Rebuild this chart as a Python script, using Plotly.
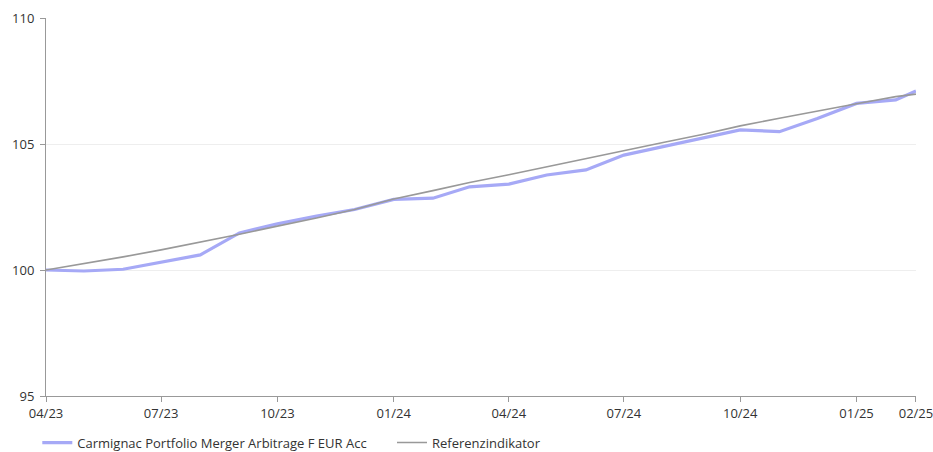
import plotly.graph_objects as go

dates = [
    "2023-04-01", "2023-05-01", "2023-06-01", "2023-07-01", "2023-08-01", "2023-09-01",
    "2023-10-01", "2023-11-01", "2023-12-01", "2024-01-01", "2024-02-01", "2024-03-01",
    "2024-04-01", "2024-05-01", "2024-06-01", "2024-07-01", "2024-08-01", "2024-09-01",
    "2024-10-01", "2024-11-01", "2024-12-01", "2025-01-01", "2025-02-01", "2025-02-17",
]
fund = [
    100.00, 99.96, 100.03, 100.30, 100.60, 101.47,
    101.83, 102.14, 102.40, 102.80, 102.85, 103.30,
    103.41, 103.77, 103.97, 104.56, 104.90, 105.24,
    105.56, 105.49, 106.01, 106.61, 106.75, 107.10,
]
benchmark = [
    100.00, 100.25, 100.52, 100.80, 101.10, 101.42,
    101.74, 102.06, 102.40, 102.82, 103.15, 103.47,
    103.78, 104.10, 104.42, 104.74, 105.06, 105.38,
    105.72, 106.02, 106.32, 106.60, 106.88, 106.98,
]
fund_name = "Carmignac Portfolio Merger Arbitrage F EUR Acc"
bench_name = "Referenzindikator"
tick_dates = ["2023-04-01", "2023-07-01", "2023-10-01", "2024-01-01", "2024-04-01",
              "2024-07-01", "2024-10-01", "2025-01-01", "2025-02-17"]
tick_labels = ["04/23", "07/23", "10/23", "01/24", "04/24", "07/24", "10/24", "01/25", "02/25"]
y_ticks = [95, 100, 105, 110]

fig = go.Figure()
fig.add_trace(go.Scatter(x=dates, y=fund, name=fund_name, mode="lines",
                         line=dict(color="#a6a9f6", width=3.2), legend="legend"))
fig.add_trace(go.Scatter(x=dates, y=benchmark, name=bench_name, mode="lines",
                         line=dict(color="#999999", width=1.6), legend="legend2"))

leg_common = dict(orientation="h", xanchor="left", yref="container", y=0.054, yanchor="top",
                  font=dict(size=13, color="#333333"), itemwidth=30,
                  bgcolor="rgba(0,0,0,0)")

fig.update_layout(
    width=933, height=452,
    margin=dict(l=46, r=17, t=18, b=56, autoexpand=False),
    paper_bgcolor="white", plot_bgcolor="white",
    font=dict(family="Open Sans", size=13, color="#333333"),
    showlegend=True,
    legend=dict(x=-0.01, **leg_common),
    legend2=dict(x=0.3977, **leg_common),
    xaxis=dict(type="date", range=["2023-04-01", "2025-02-17 00:30"],
               tickvals=tick_dates, ticktext=tick_labels,
               showgrid=False, zeroline=False,
               showline=True, linecolor="#999999", linewidth=1,
               ticks="outside", ticklen=5, tickcolor="#999999",
               ticklabeloverflow="allow"),
    yaxis=dict(range=[95, 110], tickvals=y_ticks,
               showgrid=True, gridcolor="#eeeeee", gridwidth=1, zeroline=False,
               showline=True, linecolor="#999999", linewidth=1,
               ticks="outside", ticklen=5, tickcolor="#999999",
               ticklabelstandoff=3),
)

fig.write_html("out.html")
